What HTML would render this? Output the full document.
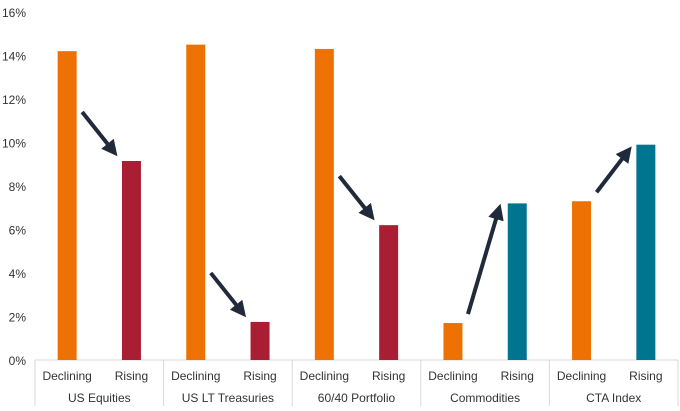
<!DOCTYPE html>
<html><head><meta charset="utf-8"><style>
body{margin:0;background:#fff;}
svg{display:block;font-family:"Liberation Sans",Arial,sans-serif;}
</style></head><body>
<svg id="chart" width="680" height="411"></svg>
<script>
const groups = ["US Equities","US LT Treasuries","60/40 Portfolio","Commodities","CTA Index"];
const subLabels = ["Declining","Rising"];
const declining = [14.2, 14.5, 14.3, 1.7, 7.3];
const rising = [9.15, 1.75, 6.2, 7.2, 9.9];
const risingColors = ["#a91e32","#a91e32","#a91e32","#00758f","#00758f"];
const yTicks = [0,2,4,6,8,10,12,14,16];

const NS="http://www.w3.org/2000/svg";
const svg=document.getElementById('chart');
const x0=35, x1=678, yBase=360, yTop=12, maxV=16;
const gw=(x1-x0)/groups.length;
const y=v=>yBase-(v/maxV)*(yBase-yTop);
const gx=i=>x0+i*gw;
function mk(tag,attrs){const e=document.createElementNS(NS,tag);for(const k in attrs)e.setAttribute(k,attrs[k]);svg.appendChild(e);return e;}

yTicks.forEach(t=>{
  const e=mk('text',{x:26,y:y(t)+5,'text-anchor':'end','font-size':12,fill:'#333'});
  e.textContent=t+'%';
  
  
});
const ax=mk('line',{x1:x0,x2:x1,y1:yBase,y2:yBase,stroke:'#d9d9d9','stroke-width':1});


for(let i=0;i<=groups.length;i++){
  const l=mk('line',{x1:gx(i),x2:gx(i),y1:yBase,y2:406,stroke:'#d9d9d9','stroke-width':1});
  
  
}
const marker=document.createElementNS(NS,'defs');
marker.innerHTML='<marker id="ah" markerWidth="4" markerHeight="4" refX="2" refY="2" orient="auto"><path d="M0,0 L4,2 L0,4 Z" fill="#1f2a3a"/></marker>';
svg.appendChild(marker);
groups.forEach((g,i)=>{
  const cD=gx(i)+gw*0.25, cR=gx(i)+gw*0.75, bw=19;
  const b1=mk('rect',{x:cD-bw/2,y:y(declining[i]),width:bw,height:yBase-y(declining[i]),fill:'#ee7203'});
  
  
  const b2=mk('rect',{x:cR-bw/2,y:y(rising[i]),width:bw,height:yBase-y(rising[i]),fill:risingColors[i]});
  
  
  [cD,cR].forEach((c,j)=>{
    const t=mk('text',{x:c,y:380,'text-anchor':'middle','font-size':12,fill:'#333'});
    t.textContent=subLabels[j];
    
    
  });
  const gt=mk('text',{x:gx(i)+gw/2,y:402,'text-anchor':'middle','font-size':12,fill:'#333'});
  gt.textContent=g;
  
  
  // arrow between bar tops
  const yd=y(declining[i]), yr=y(rising[i]);
  let sx=cD+15, ex=cR-19, sy, ey;
  if(yr>yd){ sy=yr-49; ey=yr-11; } else { sy=yd-9; ey=yr+8; }
  if(Math.abs(yd-yr)<200 || yr>yd){
    const a=mk('line',{x1:sx,y1:sy,x2:ex,y2:ey,stroke:'#1f2a3a','stroke-width':4,'marker-end':'url(#ah)'});
    
    
  }
});
</script>
</body></html>
